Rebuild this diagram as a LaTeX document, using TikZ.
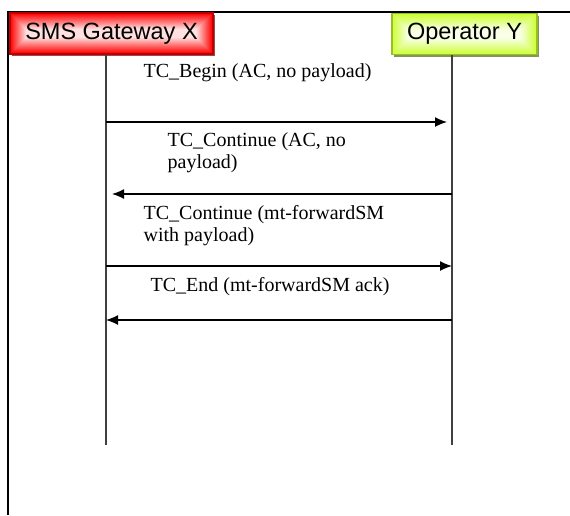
\documentclass[tikz,border=0pt]{standalone}
\usepackage{fontspec}
\setmainfont{Liberation Serif}
\setsansfont{Liberation Sans}
\usetikzlibrary{arrows.meta,positioning,shadows}
\definecolor{gwred}{RGB}{255,0,0}
\definecolor{opgreen}{RGB}{204,255,51}

\tikzset{
  actor/.style={draw=#1!75!black, minimum height=41pt, inner sep=0pt,
    font=\sffamily\fontsize{23.5}{26}\selectfont,
    drop shadow={shadow xshift=2pt,shadow yshift=-2pt,fill=#1!40!black,opacity=0.7},
    path picture={
      \foreach \k [evaluate=\k as \p using {max(12,100-5.5*\k)}] in {0,...,21}
        \fill[#1!\p!white] ([shift={(\k pt,\k pt)}]path picture bounding box.south west)
          rectangle ([shift={(-\k pt,-\k pt)}]path picture bounding box.north east);
    }},
  msg/.style={font=\fontsize{20}{21.5}\selectfont, align=left, anchor=base west, inner sep=0pt},
  life/.style={line width=1.3pt, black!75},
}

\begin{document}
\begin{tikzpicture}[x=1pt,y=-1pt,>={Latex[length=12pt,width=10pt]},line width=1.3pt]
   \useasboundingbox (0,0) rectangle (570,515);
   \draw[line width=2pt] (8,515) -- (8,12) -- (570,12);
   % the two parties
   \node[actor=gwred, minimum width=203pt] (gw) at (111.5,33.5) {SMS Gateway X};
   \node[actor=opgreen, minimum width=145pt] (op) at (464.5,34) {Operator Y};
   \coordinate (gwtop) at (106,54);
   \coordinate (gwbot) at (106,445);
   \coordinate (optop) at (452,55);
   \coordinate (opbot) at (452,445);
   \draw[life] (gwtop) -- (gwbot);
   \draw[life] (optop) -- (opbot);
   \foreach \y [count=\i] in {122,194,266,320} {
      \coordinate (g\i) at (106,\y);
      \coordinate (o\i) at (452,\y);
   }
   \path[->] 
    (g1) edge [shorten >=5pt] (o1)
    (o2) edge [shorten >=6pt] (g2)
    (g3) edge (o3)
    (o4) edge (g4);
   % messages
   \node[msg] (m1) at (143,77) {TC\_Begin (AC, no payload)};
   \node[msg] (m2) at (167,168) {TC\_Continue (AC, no\\payload)};
   \node[msg] (m3) at (143,241) {TC\_Continue (mt-forwardSM\\with payload)};
   \node[msg] (m4) at (150,291.5) {TC\_End (mt-forwardSM ack)};
\end{tikzpicture}
\end{document}
